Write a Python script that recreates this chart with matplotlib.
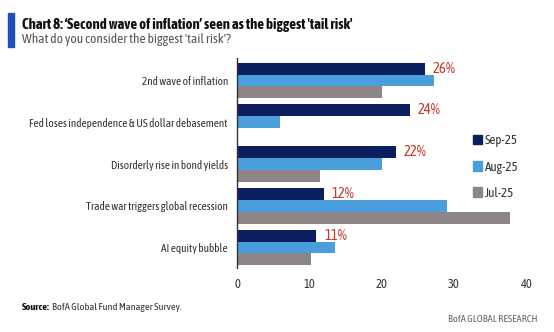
import matplotlib
matplotlib.use("Agg")
import matplotlib.pyplot as plt
from matplotlib.patches import Patch, Rectangle
import numpy as np

plt.rcParams['font.family'] = ['Asap Condensed', 'Liberation Sans', 'DejaVu Sans']

categories = ['2nd wave of inflation',
              'Fed loses independence & US dollar debasement',
              'Disorderly rise in bond yields',
              'Trade war triggers global recession',
              'AI equity bubble']
sep25 = [26, 24, 22, 12, 11]
aug25 = [27.2, 5.9, 20.1, 29.0, 13.6]
jul25 = [20.0, 0, 11.5, 37.8, 10.3]
series_names = ['Sep-25', 'Aug-25', 'Jul-25']
pct_labels = ['26%', '24%', '22%', '12%', '11%']

navy = '#0b1f5e'
light = '#4a9edb'
grey = '#8e8686'
red = '#c0392b'

W, H = 554, 332
fig = plt.figure(figsize=(W / 100, H / 100), dpi=100)
ax = fig.add_axes([237 / W, 1 - 268 / H, 289 / W, 210 / H])

y = np.arange(len(categories))
h = 0.285
ax.barh(y - h, sep25, height=h, color=navy)
ax.barh(y, aug25, height=h, color=light)
ax.barh(y + h, jul25, height=h, color=grey)

for yi, v, lab in zip(y, sep25, pct_labels):
    ax.text(v + 1.05, yi - h, lab, color=red, fontsize=10.5, va='center', ha='left')

ax.set_ylim(len(categories) - 0.51, -0.54)
ax.set_xlim(0, 40)
ax.set_xticks([0, 10, 20, 30, 40])
ax.set_yticks(y)
ax.set_yticklabels(categories, fontsize=8.1, color='#333333')
ax.tick_params(axis='both', length=0)
ax.tick_params(axis='y', pad=6.5)
ax.tick_params(axis='x', pad=7, labelsize=9, labelcolor='#333333')
for s in ['top', 'right', 'bottom']:
    ax.spines[s].set_visible(False)
ax.spines['left'].set_color('#333333')
ax.spines['left'].set_linewidth(1.0)

handles = [Patch(color=c) for c in (navy, light, grey)]
fig.legend(handles, series_names, loc='center left', bbox_to_anchor=(468 / W, 1 - 167 / H),
           frameon=False, handlelength=0.7, handleheight=0.7, handletextpad=0.2,
           labelspacing=1.0, fontsize=9.4, labelcolor='#333333', borderaxespad=0)

# header
fig.patches.append(Rectangle((8 / W, 1 - 47 / H), 6 / W, 34 / H,
                             transform=fig.transFigure, color='#1f4fbf'))
fig.text(22 / W, 1 - 25 / H,
         "Chart 8: \u2018Second wave of inflation\u2019 seen as the biggest 'tail risk'",
         fontsize=10.6, fontweight='bold', va='center', ha='left', color='#111111')
fig.text(22 / W, 1 - 40 / H, "What do you consider the biggest 'tail risk'?",
         fontsize=9.6, va='center', ha='left', color='#555555')

# footer
src = fig.text(22 / W, 1 - 307 / H, "Source:", fontsize=7.5, fontweight='bold',
               va='center', ha='left', color='#111111')
fig.canvas.draw()
bb = src.get_window_extent().transformed(fig.transFigure.inverted())
fig.text(bb.x1 + 0.004, 1 - 307 / H, "BofA Global Fund Manager Survey.", fontsize=7.5,
         va='center', ha='left', color='#333333')
fig.text(538 / W, 1 - 320 / H, "BofA GLOBAL RESEARCH", fontsize=7.5,
         va='center', ha='right', color='#666666')

fig.savefig('out.png', dpi=100)
